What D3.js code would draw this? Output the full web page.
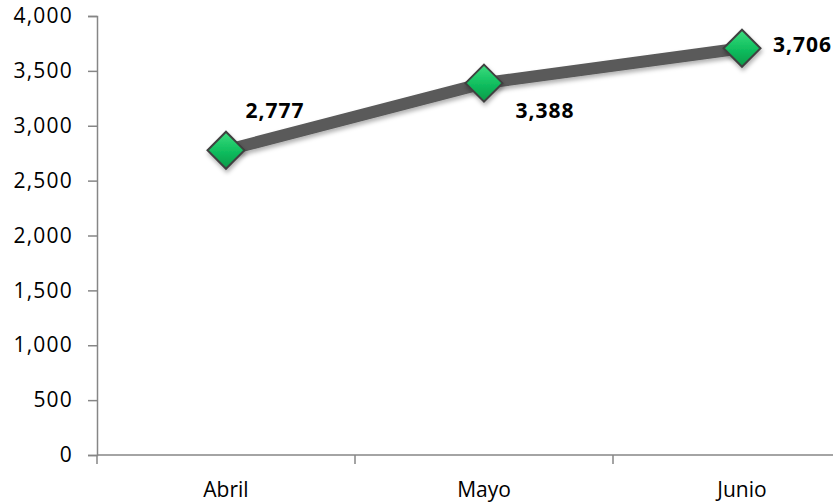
<!DOCTYPE html>
<html>
<head>
<meta charset="utf-8">
<script src="https://cdn.jsdelivr.net/npm/d3@7"></script>
<style>
  body { margin: 0; background: #fff; overflow: hidden; }
  text { font-family: "Open Sans", "Noto Sans", sans-serif; }
</style>
</head>
<body>
<div class="chart"></div>
<script>
// DATA ------------------------------
const months = ["Abril", "Mayo", "Junio"]
const values = [2777, 3388, 3706]
const yTicks = [0, 500, 1000, 1500, 2000, 2500, 3000, 3500, 4000]
// label offsets from each point (dx, dy)
const labelPos = [[49, -32], [61, 35], [31, 4]]
const labelAnchor = ["middle", "middle", "start"]

// MARGIN CONVENTION
// the plot runs past the right edge of the picture (last category is cut off)
const margin = ({top: 16, left: 97})
const width = 774,
      height = 439

const svg = d3
  .select(".chart")
  .append("svg")
  .attr("width", 833)
  .attr("height", 504)
  .append("g")
  .attr("transform", "translate(" + margin.left + "," + margin.top + ")")

const defs = svg.append("defs")
const grad = defs.append("linearGradient")
  .attr("id", "green").attr("x1", 0).attr("y1", 0).attr("x2", 0).attr("y2", 1)
grad.append("stop").attr("offset", "0%").attr("stop-color", "#3ddc7e")
grad.append("stop").attr("offset", "50%").attr("stop-color", "#12c060")
grad.append("stop").attr("offset", "100%").attr("stop-color", "#069a48")
const filt = defs.append("filter").attr("id", "shadow")
  .attr("x", "-50%").attr("y", "-50%").attr("width", "200%").attr("height", "200%")
filt.append("feDropShadow").attr("dx", 1).attr("dy", 3).attr("stdDeviation", 2)
  .attr("flood-color", "#000").attr("flood-opacity", 0.3)

// scales
const xScale = d3.scaleBand().domain(months).range([0, width])
const yScale = d3.scaleLinear().domain([0, 4000]).range([height, 0])

// axes
const yAxis = d3.axisLeft(yScale).tickValues(yTicks)
  .tickFormat(d3.format(",")).tickSize(9).tickPadding(15)
const xAxis = d3.axisBottom(xScale).tickSize(0).tickPadding(27)

const yG = svg.append("g").attr("class", "axis y-axis").call(yAxis)
const xG = svg.append("g").attr("class", "axis x-axis")
  .attr("transform", `translate(0, ${height})`).call(xAxis)

svg.selectAll(".axis path, .axis line").attr("stroke", "#868686").attr("stroke-width", 1.5)
svg.selectAll(".axis text").attr("font-size", 21).attr("fill", "#000")
yG.selectAll("text").attr("letter-spacing", 1.2)
xG.select(".domain").attr("d", `M0,0H${width}`)

// category boundary ticks
const bounds = months.map(m => xScale(m)).concat([width])
xG.selectAll(".bound").data(bounds).enter()
  .append("line").attr("class", "bound")
  .attr("x1", d => d).attr("x2", d => d)
  .attr("y1", 0).attr("y2", 9)
  .attr("stroke", "#868686").attr("stroke-width", 1.5)

// line
const cx = (d, i) => xScale(months[i]) + xScale.bandwidth() / 2
const line = d3.line().x(cx).y(d => yScale(d))
svg.append("path").datum(values)
  .attr("d", line)
  .attr("fill", "none")
  .attr("stroke", "#5a5a5a")
  .attr("stroke-width", 12)
  .attr("filter", "url(#shadow)")

// markers
const r = 18.5
svg.selectAll(".marker").data(values).enter()
  .append("path").attr("class", "marker")
  .attr("transform", (d, i) => `translate(${cx(d, i)},${yScale(d)})`)
  .attr("d", `M0,${-r}L${r},0L0,${r}L${-r},0Z`)
  .attr("fill", "url(#green)")
  .attr("stroke", "#404040")
  .attr("stroke-width", 2)
  .attr("filter", "url(#shadow)")

// data labels
svg.selectAll(".label").data(values).enter()
  .append("text").attr("class", "label")
  .attr("x", (d, i) => cx(d, i) + labelPos[i][0])
  .attr("y", (d, i) => yScale(d) + labelPos[i][1])
  .attr("text-anchor", (d, i) => labelAnchor[i])
  .attr("font-size", 21)
  .attr("font-weight", "bold")
  .attr("letter-spacing", 1)
  .attr("fill", "#000")
  .text(d => d3.format(",")(d))
</script>
</body>
</html>
